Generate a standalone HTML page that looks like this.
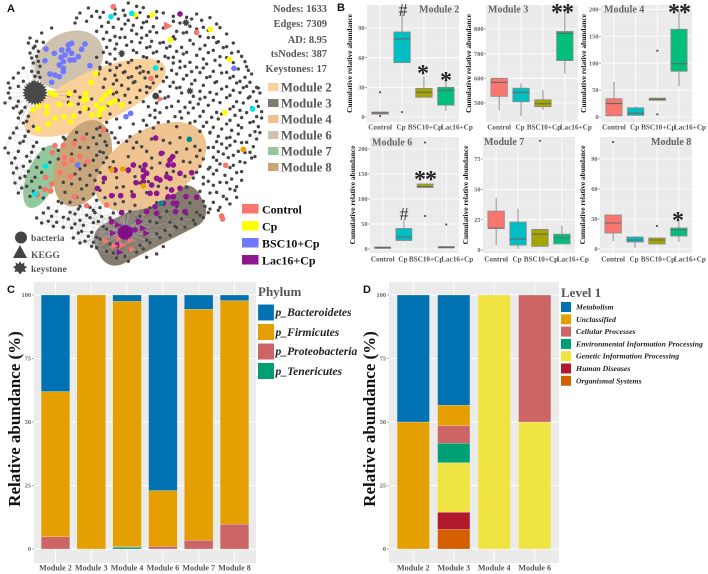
<!DOCTYPE html>
<html lang="en">
<head>
<meta charset="utf-8">
<title>Module network and abundance panels</title>
<style>
html,body{margin:0;padding:0;background:#fff;}
body{width:708px;height:574px;overflow:hidden;}
svg{display:block;font-family:"Liberation Serif",serif;font-weight:bold;filter:blur(.3px);}
.lab{font-family:"Liberation Sans",sans-serif;font-weight:bold;font-size:11px;fill:#111;}
.stat{font-size:10.4px;fill:#555;text-anchor:end;}
.modl{font-size:12.6px;fill:#555;}
.grp{font-size:12px;fill:#111;}
.shp{font-size:9.6px;fill:#555;}
.ytitle{font-size:7.4px;fill:#111;text-anchor:middle;}
.bigy{font-size:17px;fill:#111;text-anchor:middle;}
.plabel{font-size:10px;fill:#666;}
.tick{font-size:6.3px;fill:#666;}
.xt{font-size:7.2px;fill:#555;text-anchor:middle;}
.xb{font-size:8.1px;fill:#555;text-anchor:middle;}
.phy{font-size:11.6px;font-style:italic;fill:#222;}
.lvl{font-size:7.8px;font-style:italic;fill:#222;}
.mark{font-size:24px;fill:#222;text-anchor:middle;font-weight:bold;}
.hash{font-size:18px;fill:#333;text-anchor:middle;font-weight:normal;}
</style>
</head>
<body>
<svg id="fig" xmlns="http://www.w3.org/2000/svg" width="708" height="574" viewBox="0 0 708 574">
  <rect x="0" y="0" width="708" height="574" fill="#fff"/>

  <g id="net">
    <g transform="scale(.3333)">
      <ellipse cx="125" cy="530" rx="44" ry="100" transform="rotate(22 125 530)" fill="#93c99a"/>
      <ellipse cx="207" cy="180" rx="108" ry="82" transform="rotate(-28 207 180)" fill="#cfc3b0"/>
      <ellipse cx="285" cy="293" rx="230" ry="78" transform="rotate(-24 285 293)" fill="#fbd19b"/>
      <ellipse cx="248" cy="490" rx="80" ry="135" transform="rotate(20 248 490)" fill="#c9a678"/>
      <rect x="275" y="610" width="350" height="132" rx="50" transform="rotate(-27 450 676)" fill="#857b6f"/>
      <ellipse cx="452" cy="500" rx="185" ry="108" transform="rotate(-32 452 500)" fill="#f0c490"/>
    </g>
    <g id="netMarks" transform="scale(.3333)"></g>
  </g>

  <g>
    <text class="stat" x="327" y="12">Nodes: 1633</text>
    <text class="stat" x="327" y="27">Edges: 7309</text>
    <text class="stat" x="327" y="43">AD: 8.95</text>
    <text class="stat" x="327" y="57">tsNodes: 387</text>
    <text class="stat" x="327" y="72">Keystones: 17</text>
  </g>
  <g>
    <rect x="268" y="83" width="10.5" height="8" fill="#fbd19b"/>
    <text class="modl" x="281" y="91.5">Module 2</text>
    <rect x="268" y="99" width="10.5" height="8" fill="#837a6e"/>
    <text class="modl" x="281" y="107.5">Module 3</text>
    <rect x="268" y="115" width="10.5" height="8" fill="#ecc08e"/>
    <text class="modl" x="281" y="123.5">Module 4</text>
    <rect x="268" y="131" width="10.5" height="8" fill="#cfc3b0"/>
    <text class="modl" x="281" y="139.5">Module 6</text>
    <rect x="268" y="147" width="10.5" height="8" fill="#93c99a"/>
    <text class="modl" x="281" y="155.5">Module 7</text>
    <rect x="268" y="163" width="10.5" height="8" fill="#c9a678"/>
    <text class="modl" x="281" y="171.5">Module 8</text>
  </g>
  <g>
    <rect x="242" y="204" width="16.5" height="9.5" fill="#f8766d"/>
    <text class="grp" x="262" y="213.5">Control</text>
    <rect x="242" y="221" width="16.5" height="9.5" fill="#ffff00"/>
    <text class="grp" x="262" y="230.5">Cp</text>
    <rect x="242" y="238" width="16.5" height="9.5" fill="#6f78ff"/>
    <text class="grp" x="262" y="247.5">BSC10+Cp</text>
    <rect x="242" y="255" width="16.5" height="9.5" fill="#8f1691"/>
    <text class="grp" x="262" y="264.5">Lac16+Cp</text>
  </g>
  <g>
    <circle cx="21" cy="237.5" r="6" fill="#444"/>
    <text class="shp" x="31" y="241">bacteria</text>
    <polygon points="20,245 27,258 13,258" fill="#444"/>
    <text class="shp" x="31" y="258">KEGG</text>
    <polygon points="20,261 21.5,264 24.5,262.5 24,265.5 27,267 24.5,269 26,272 22.5,271.5 20,274.5 18,271.5 14.5,272 15.5,269 13,267 16,265.5 15.5,262.5 18.5,264" fill="#444"/>
    <text class="shp" x="31" y="272">keystone</text>
  </g>

  <text class="lab" x="7" y="12">A</text>
  <text class="lab" x="337" y="11">B</text>
  <text class="lab" x="7" y="293">C</text>
  <text class="lab" x="363" y="293">D</text>

  <g id="boxes"></g>

  <text class="bigy" transform="translate(20 419) rotate(-90)">Relative abundance (%)</text>
  <text class="bigy" transform="translate(375 419) rotate(-90)">Relative abundance (%)</text>
  <g id="stacks"></g>

  <g>
    <text x="258" y="296" font-size="13" fill="#555">Phylum</text>
    <rect x="258" y="304.5" width="16" height="16" fill="#0072b2" stroke="#9cc" stroke-width=".4"/>
    <text class="phy" x="275.5" y="316">p_Bacteroidetes</text>
    <rect x="258" y="324" width="16" height="16" fill="#e69f00"/>
    <text class="phy" x="275.5" y="336">p_Firmicutes</text>
    <rect x="258" y="343.5" width="16" height="16" fill="#cc6666"/>
    <text class="phy" x="275.5" y="355">p_Proteobacteria</text>
    <rect x="258" y="363" width="16" height="16" fill="#009e73"/>
    <text class="phy" x="275.5" y="375">p_Tenericutes</text>
  </g>
  <g>
    <text x="561" y="297" font-size="13" fill="#555">Level 1</text>
    <rect x="561" y="302" width="10" height="10" fill="#0072b2"/>
    <text class="lvl" x="576" y="309.5">Metabolism</text>
    <rect x="561" y="314.3" width="10" height="10" fill="#e69f00"/>
    <text class="lvl" x="576" y="321.8">Unclassified</text>
    <rect x="561" y="326.6" width="10" height="10" fill="#cc6666"/>
    <text class="lvl" x="576" y="334.1">Cellular Processes</text>
    <rect x="561" y="338.9" width="10" height="10" fill="#009e73"/>
    <text class="lvl" x="576" y="346.4">Environmental Information Processing</text>
    <rect x="561" y="351.2" width="10" height="10" fill="#f0e442"/>
    <text class="lvl" x="576" y="358.7">Genetic Information Processing</text>
    <rect x="561" y="363.5" width="10" height="10" fill="#b2182b"/>
    <text class="lvl" x="576" y="371">Human Diseases</text>
    <rect x="561" y="375.8" width="10" height="10" fill="#d55e00"/>
    <text class="lvl" x="576" y="383.3">Organismal Systems</text>
  </g>
</svg>

<script>
/* ---------- values ---------- */
const boxGroups = ['Control','Cp','BSC10+Cp','Lac16+Cp'];

/* each row: min, q1, median, q3, max */
const module2Stats = [[3,3,4,5,5],[55,55,79,86,108],[20,20,25,29,41],[6,12,27,30,36]];
const module2Outliers = [[25,1],[5],[],[]];
const module2Ticks = [0,30,60,90];

const module3Stats = [[470,527,584,600,602],[447,505,543,560,580],[472,485,497,513,552],[620,672,782,790,880]];
const module3Outliers = [[],[],[],[]];
const module3Ticks = [500,600,700,800];

const module4Stats = [[2,2,25,34,65],[3,3,7,17,20],[31,31,33,35,35],[57,85,99,163,197]];
const module4Outliers = [[],[],[123,5],[]];
const module4Ticks = [0,50,100,150,200];

const module6Stats = [[1,1,3,4,5],[15,17,24,41,58],[123,123,125,130,130],[2,2,3,5,5]];
const module6Outliers = [[],[],[213,66],[49]];
const module6Ticks = [0,50,100,150,200];

const module7Stats = [[4,18,18,32,43],[1,4,9,23,34],[3,3,13,17,17],[5,5,10,13,20]];
const module7Outliers = [[],[],[90],[]];
const module7Ticks = [0,25,50,75];

const module8Stats = [[8,16,26,34,34],[1,7,9,12,13],[5,5,9,11,11],[7,13,19,21,27]];
const module8Outliers = [[107],[],[23],[]];
const module8Ticks = [0,30,60,90];

const stackTicks = [0,25,50,75,100];

const phylumModules = ['Module 2','Module 3','Module 4','Module 6','Module 7','Module 8'];
const tenericutes    = [0,0,0.7,0,0,0];
const proteobacteria = [4.8,0,0.2,1,3.5,9.8];
const firmicutes     = [57.2,100,96.6,22,90.9,88];
const bacteroidetes  = [38,0,2.5,77,5.6,2.2];

const levelModules = ['Module 2','Module 3','Module 4','Module 6'];
const organismal   = [0,7.7,0,0];
const humanDisease = [0,6.8,0,0];
const genetic      = [0,19.5,100,50];
const environment  = [0,7.6,0,0];
const cellular     = [0,7,0,50];
const unclassified = [50,8,0,0];
const metabolism   = [50,43.4,0,0];

/* network layout, in 3x layout units: row y then node x values */
const bacteriaRows = [
[15,385,410],[30,265,290,310,345,370,430,470],[45,240,275,300,345,375,420,445,490,520,560,590],
[60,230,260,325,355,385,410,440,470,520,555,575,605,630],[75,225,305,340,375,400,430,460,540,570,610,650],
[90,155,290,320,365,395,425,450,490,530,560,590,625,660],[105,125,345,375,410,440,470,520,550,600,640,680],
[120,90,110,130,310,330,360,395,425,455,490,525,570,625,655],[135,85,105,320,350,380,420,450,480,510,545,580,615,650,680,700],
[150,100,115,310,345,400,440,470,500,530,560,600,640,670,715],[165,90,110,290,330,365,410,430,460,495,520,550,590,625,660,695,725],
[180,95,115,320,345,395,440,475,505,540,570,610,645,680,735],[195,100,120,300,330,360,385,420,520,555,590,620,660,700,740],
[210,70,95,115,300,330,350,375,410,430,445,485,515,540,575,610,640,680,715,745],[225,55,105,120,295,345,370,395,420,470,500,530,560,600,630,665,700,735,755],
[240,40,70,100,315,350,385,405,435,490,520,550,585,620,650,690,720,750],[255,25,55,310,340,365,400,440,460,510,540,575,610,645,680,710,740,770],
[270,30,225,350,385,420,450,480,530,600,630,665,700,730,760,775],[285,25,205,240,340,375,440,505,545,580,615,650,690,720,750,780],
[300,30,55,205,275,355,410,430,495,535,570,600,640,680,710,745,770],[315,15,50,75,235,325,390,445,470,515,555,595,625,660,700,730,775],
[330,40,65,240,265,465,500,540,580,610,650,690,720,755,785],[345,60,85,300,330,450,480,525,565,600,635,665,705,740,770],
[360,55,80,320,350,430,465,505,545,585,620,655,690,725,760,785],[375,70,100,300,400,440,475,530,570,610,640,680,715,750,775],
[390,50,85,230,290,320,360,420,460,600,630,665,695,725,765],[405,40,75,190,260,300,335,390,630,655,690,715,750,780],
[420,30,70,110,195,225,280,315,345,380,410,455,490,540,650,680,705,740,770],[435,60,100,240,290,320,355,425,510,585,640,665,690,725,760],
[450,15,55,95,130,175,265,300,400,440,530,560,600,625,655,680,715,750],[465,25,80,115,215,290,310,385,490,590,640,670,700,735,765],
[480,45,90,150,175,280,320,340,455,550,570,610,650,685,720,755],[495,35,70,110,195,255,310,420,480,600,630,660,700,735],
[510,50,85,125,240,290,330,385,455,520,590,625,650,690,725],[525,40,75,105,225,270,300,405,500,555,610,640,675,710],
[540,60,95,190,240,285,350,445,580,625,660,695,725],[555,45,80,120,215,260,310,370,420,475,560,610,640,680,710],
[570,65,100,195,245,300,350,395,500,600,650,690,705],[585,55,90,230,280,340,440,560,630,670,710],
[600,130,175,210,250,290,315,370,500,610,640,680],[615,185,240,270,345,405,470,530,570,615,660,690],
[630,145,170,210,235,280,300,390,450,500,590,630,655],[645,130,155,190,225,260,285,305,340,420,480,560,600,625],
[660,110,145,170,205,240,270,295,330,450,510,545,580,610],[675,125,160,190,225,250,280,310,470,525,555,585],
[690,215,245,275,320,495,530],[705,235,265,290,470,510],[720,220,255,280,300,440,480],
[735,240,275,290,330,420,450,490],[750,290,320,410,430],[765,340,375,440,470],[780,350,385]
];
const rowWobble = [-6,4,7,-3,1,-7,5];
const controlNodes = [[340,20],[590,97],[453,235],[677,496],[260,617],[320,615],[224,590],[310,390],[165,437],[190,437],[250,415],[222,430],[157,458],[240,470],[193,472],[215,480],[193,490],[263,485],[180,518],[212,530],[137,532],[155,552],[135,568],[152,573],[112,585],[668,657],[665,648]];
const cpNodes = [[405,45],[457,45],[631,88],[511,120],[688,178],[674,338],[287,222],[273,247],[150,278],[165,285],[208,280],[257,280],[258,297],[330,275],[315,285],[305,300],[345,303],[330,310],[290,315],[310,325],[365,315],[300,330],[275,345],[297,345],[255,325],[212,313],[178,313],[140,320],[140,338],[98,330],[115,318],[165,355],[192,350],[222,348],[212,365],[145,372],[115,387],[250,300]];
const bscNodes = [[138,147],[135,182],[163,160],[215,130],[255,132],[185,150],[205,150],[215,160],[195,165],[235,170],[222,180],[190,185],[178,195],[190,205],[270,197],[150,222],[165,225],[178,230],[190,215],[155,247],[210,180],[245,148],[183,172],[205,135],[378,350],[392,340],[233,495],[702,205]];
const lacNodes = [[540,42],[467,414],[484,460],[518,470],[510,480],[505,495],[520,495],[575,518],[540,520],[500,530],[510,535],[470,535],[435,495],[430,510],[400,495],[385,510],[430,530],[440,520],[408,548],[480,540],[455,555],[430,545],[540,565],[515,570],[470,580],[450,580],[520,590],[505,590],[590,592],[558,590],[530,610],[520,610],[465,620],[470,640],[527,635],[555,635],[490,610],[440,635],[415,665],[365,638],[335,665],[292,565],[313,535],[335,587],[362,587],[400,587],[345,510],[405,690],[390,700],[352,735]];
const cyanNodes = [[333,50],[395,40],[467,204],[758,327],[137,498],[105,582]];
const tealNodes = [[568,418],[483,610]];
const orangeNodes = [[730,448],[335,510],[368,507],[430,558]];
const controlKegg = [[505,78],[483,297],[318,722],[345,738],[368,735],[392,722],[397,748],[360,715]];
const lacKegg = [[340,700],[355,675],[400,690],[420,665],[440,700],[360,757],[430,685]];
const darkHubs = [[105,278],[375,697]];
const keystones = [[570,273],[558,68],[365,160]];

/* ---------- helpers ---------- */
const NS = 'http://www.w3.org/2000/svg';
function mk(parent, tag, attrs, txt){
  const el = document.createElementNS(NS, tag);
  for (const k in attrs) el.setAttribute(k, attrs[k]);
  if (txt !== undefined) el.textContent = txt;
  parent.appendChild(el);
  return el;
}
function linear(v0, v1, p0, p1){ return v => p0 + (v - v0) * (p1 - p0) / (v1 - v0); }
function band(n, left, right){
  const unit = (right - left) / (n + 0.2);
  return { unit, at: i => left + (0.6 + i) * unit };
}
function starPoints(cx, cy, ro, ri, n){
  const p = [];
  for (let i = 0; i < n * 2; i++){
    const a = Math.PI * i / n, r = i % 2 ? ri : ro;
    p.push((cx + r * Math.cos(a)).toFixed(1) + ',' + (cy + r * Math.sin(a)).toFixed(1));
  }
  return p.join(' ');
}

/* ---------- network ---------- */
(function(){
  const g = document.getElementById('netMarks');
  const nodes = [];
  bacteriaRows.forEach(row => {
    row.slice(1).forEach((x, i) => { nodes.push([x, row[0] + rowWobble[i % rowWobble.length]]); });
  });
  let d = '';
  for (let i = 0; i < nodes.length; i++){
    for (let j = i + 1; j < nodes.length; j++){
      const dx = nodes[i][0] - nodes[j][0], dy = nodes[i][1] - nodes[j][1];
      const lim = (nodes[i][0] < 560 && nodes[i][1] > 380) ? 40 : 24;
      if (dx * dx + dy * dy < lim * lim) d += 'M' + nodes[i] + 'L' + nodes[j];
    }
  }
  darkHubs.forEach(h => {
    nodes.concat(lacNodes).forEach(n => {
      const dx = n[0] - h[0], dy = n[1] - h[1];
      if (dx * dx + dy * dy < 140 * 140) d += 'M' + h + 'L' + n;
    });
  });
  const edges = mk(g, 'path', {d: d, stroke: '#b5b5b5', 'stroke-width': 1.1, fill: 'none', opacity: .8});
  
  

  nodes.forEach(n => {
    const c = mk(g, 'circle', {cx: n[0], cy: n[1], r: 5, fill: '#444'});
    
    
  });
  const sets = [[cpNodes,'#ffff00','cp-node'],[controlNodes,'#f8766d','control-node'],[bscNodes,'#6f78ff','bsc10-node'],
                [lacNodes,'#8f1691','lac16-node'],[cyanNodes,'#00e5f0','cyan-node'],[tealNodes,'#008b8b','teal-node'],[orangeNodes,'#f0a000','orange-node']];
  sets.forEach(s => {
    s[0].forEach(n => {
      const c = mk(g, 'circle', {cx: n[0], cy: n[1], r: 8.5, fill: s[1]});
      
      
    });
  });
  function tri(list, color, name){
    list.forEach(n => {
      const big = n[0] === 505 ? 13 : 10;
      const t = mk(g, 'polygon', {points: (n[0]-big)+','+(n[1]-big)+' '+(n[0]+big)+','+n[1]+' '+(n[0]-big)+','+(n[1]+big), fill: color});
      
      
    });
  }
  tri(controlKegg, '#f8766d', 'control-kegg-node');
  tri(lacKegg, '#8f1691', 'lac16-kegg-node');
  const hub1 = mk(g, 'polygon', {points: starPoints(darkHubs[0][0], darkHubs[0][1], 38, 31, 24), fill: '#484848'});
  
  
  const hub2 = mk(g, 'polygon', {points: starPoints(darkHubs[1][0], darkHubs[1][1], 25, 20, 20), fill: '#7f0f88'});
  
  
  keystones.forEach(k => {
    const s = mk(g, 'polygon', {points: starPoints(k[0], k[1], 12, 7, 9), fill: '#444'});
    
    
  });
  const dk = mk(g, 'circle', {cx: 467, cy: 288, r: 10, fill: '#444'});
  
  
})();

/* ---------- box plots ---------- */
const boxFills = ['#f8766d','#00bfc4','#a3a500','#00bf7d'];
const labelNudge = [0,-1,1,11];
const boxPanels = [
 {key:'module-2', title:'Module 2', stats:module2Stats, out:module2Outliers, ticks:module2Ticks, l:367, r:459, t:5, b:122, v0:0, v1:90, p0:117, p1:28, tx:419, ty:12.5, xy:129.5},
 {key:'module-3', title:'Module 3', stats:module3Stats, out:module3Outliers, ticks:module3Ticks, l:486, r:578, t:5, b:122, v0:500, v1:800, p0:103, p1:29, tx:488, ty:12.5, xy:129.5},
 {key:'module-4', title:'Module 4', stats:module4Stats, out:module4Outliers, ticks:module4Ticks, l:601, r:692, t:5, b:122, v0:0, v1:200, p0:117, p1:9.3, tx:604, ty:12.5, xy:129.5},
 {key:'module-6', title:'Module 6', stats:module6Stats, out:module6Outliers, ticks:module6Ticks, l:370, r:459, t:137, b:253, v0:0, v1:200, p0:249, p1:149, tx:372, ty:145.5, xy:261.5},
 {key:'module-7', title:'Module 7', stats:module7Stats, out:module7Outliers, ticks:module7Ticks, l:483, r:575, t:137, b:253, v0:0, v1:75, p0:250, p1:159, tx:484, ty:145, xy:261.5},
 {key:'module-8', title:'Module 8', stats:module8Stats, out:module8Outliers, ticks:module8Ticks, l:600, r:692, t:137, b:253, v0:0, v1:90, p0:249, p1:159, tx:651, ty:145, xy:261.5}
];
(function(){
  const root = document.getElementById('boxes');
  boxPanels.forEach(P => {
    const g = mk(root, 'g', {});
    
    
    const bg = mk(g, 'rect', {x:P.l, y:P.t, width:P.r-P.l, height:P.b-P.t, fill:'#ebebeb'});
    
    
    const y = linear(P.v0, P.v1, P.p0, P.p1);
    const x = band(boxGroups.length, P.l, P.r);
    const bw = x.unit * .75;
    P.ticks.forEach((tv, i) => {
      const gy = mk(g, 'line', {x1:P.l, x2:P.r, y1:y(tv), y2:y(tv), stroke:'#fff', 'stroke-width':.8});
      
      
      const tm = mk(g, 'line', {x1:P.l-2, x2:P.l, y1:y(tv), y2:y(tv), stroke:'#777', 'stroke-width':.6});
      
      
      const tl = mk(g, 'text', {class:'tick', x:P.l-2.5, y:y(tv)+2.1, 'text-anchor':'end'}, String(tv));
      
      
      if (i < P.ticks.length - 1){
        const mv = (P.ticks[i] + P.ticks[i+1]) / 2;
        const gm = mk(g, 'line', {x1:P.l, x2:P.r, y1:y(mv), y2:y(mv), stroke:'#f6f6f6', 'stroke-width':.4});
        
        
      }
    });
    boxGroups.forEach((name, i) => {
      const cx = x.at(i), s = P.stats[i];
      const gv = mk(g, 'line', {x1:cx, x2:cx, y1:P.t, y2:P.b, stroke:'#fff', 'stroke-width':.8});
      
      
      const wh = mk(g, 'line', {x1:cx, x2:cx, y1:y(s[0]), y2:y(s[4]), stroke:'#8a8a8a', 'stroke-width':.9});
      
      
      const bx = mk(g, 'rect', {x:cx-bw/2, y:y(s[3]), width:bw, height:Math.max(y(s[1])-y(s[3]),.5), fill:boxFills[i], stroke:'#8a8a8a', 'stroke-width':.8});
      
      
      const md = mk(g, 'line', {x1:cx-bw/2, x2:cx+bw/2, y1:y(s[2]), y2:y(s[2]), stroke:'#666', 'stroke-width':1.1});
      
      
      P.out[i].forEach(v => {
        const o = mk(g, 'circle', {cx:cx, cy:y(v), r:1.1, fill:'#555'});
        
        
      });
      const xl = mk(g, 'text', {class:'xt', x:cx + labelNudge[i], y:P.xy}, name);
      
      
    });
    const title = mk(g, 'text', {class:'plabel', x:P.tx, y:P.ty}, P.title);
    
    
    const yt = mk(g, 'text', {class:'ytitle', transform:'translate(' + (P.l-15) + ' ' + ((P.t+P.b)/2) + ') rotate(-90)'}, 'Cumulative relative abundance');
    
    
  });
  /* significance marks */
  const marks = [['hash','#',403,16],['hash','#',404,220],
    ['mark','*',423,81],['mark','*',446,88],['mark','**',562,20],['mark','**',679,20],['mark','**',425,187],['mark','*',678,228]];
  marks.forEach(m => {
    const t = mk(root, 'text', {class:m[0], x:m[2], y:m[3], 'letter-spacing': m[1]==='**' ? '-1' : '0'}, m[1]);
    
    
  });
})();

/* ---------- stacked bars ---------- */
const stackPanels = [
 {key:'phylum', cats:phylumModules, l:34, r:256, series:[[tenericutes,'#009e73','tenericutes'],[proteobacteria,'#cc6666','proteobacteria'],[firmicutes,'#e69f00','firmicutes'],[bacteroidetes,'#0072b2','bacteroidetes']]},
 {key:'level-1', cats:levelModules, l:389, r:559, series:[[organismal,'#d55e00','organismal'],[humanDisease,'#b2182b','human-diseases'],[genetic,'#f0e442','genetic'],[environment,'#009e73','environmental'],[cellular,'#cc6666','cellular'],[unclassified,'#e69f00','unclassified'],[metabolism,'#0072b2','metabolism']]}
];
(function(){
  const root = document.getElementById('stacks');
  const T = 282, B = 563;
  const y = linear(0, 100, 549, 295);
  stackPanels.forEach(P => {
    const g = mk(root, 'g', {});
    
    
    const bg = mk(g, 'rect', {x:P.l, y:T, width:P.r-P.l, height:B-T, fill:'#ebebeb'});
    
    
    stackTicks.forEach(tv => {
      const gy = mk(g, 'line', {x1:P.l, x2:P.r, y1:y(tv), y2:y(tv), stroke:'#fff', 'stroke-width':.9});
      
      
      const tm = mk(g, 'line', {x1:P.l-2, x2:P.l, y1:y(tv), y2:y(tv), stroke:'#777', 'stroke-width':.6});
      
      
      const tl = mk(g, 'text', {class:'tick', x:P.l-3, y:y(tv)+2.1, 'text-anchor':'end'}, String(tv));
      
      
    });
    const x = band(P.cats.length, P.l, P.r);
    const bw = x.unit * .8;
    P.cats.forEach((name, i) => {
      const cx = x.at(i);
      const gv = mk(g, 'line', {x1:cx, x2:cx, y1:T, y2:B, stroke:'#fff', 'stroke-width':.9});
      
      
      let acc = 0;
      P.series.forEach(s => {
        const v = s[0][i];
        if (v > 0){
          const r = mk(g, 'rect', {x:cx-bw/2, y:y(acc+v), width:bw, height:y(acc)-y(acc+v), fill:s[1], stroke:'#eee', 'stroke-width':.25});
          
          
        }
        acc += v;
      });
      const xl = mk(g, 'text', {class:'xb', x:cx, y:570.5}, name);
      
      
    });
  });
})();
</script>
</body>
</html>
